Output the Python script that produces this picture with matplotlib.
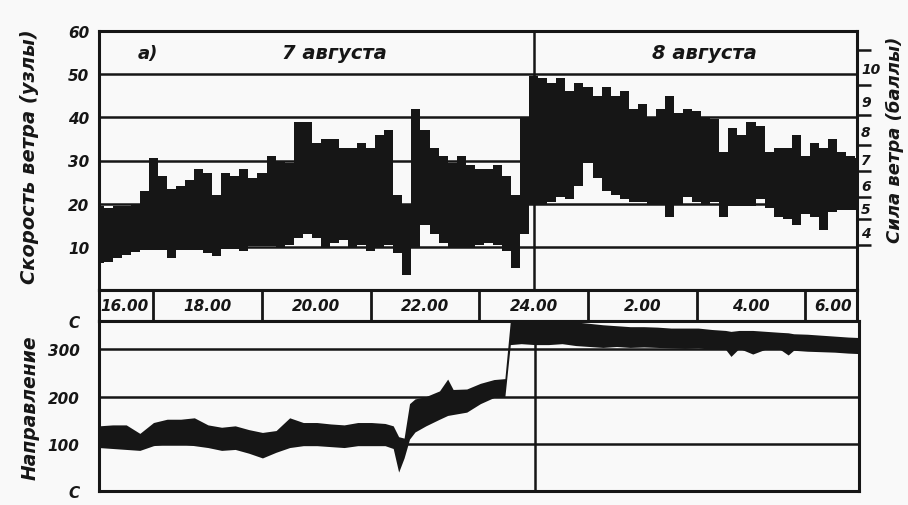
import numpy as np
import matplotlib
matplotlib.use("Agg")
import matplotlib.pyplot as plt

INK = "#161616"
PAPER = "#f9f9f9"
FONT = dict(family="DejaVu Sans", style="italic", weight="bold")

# время: часы от 16.00 (7 августа), шаг 10 мин
speed_t = [0.00, 0.17, 0.33, 0.50, 0.67, 0.83, 1.00, 1.17, 1.33, 1.50, 1.67, 1.83,
           2.00, 2.17, 2.33, 2.50, 2.67, 2.83, 3.00, 3.17, 3.33, 3.50, 3.67, 3.83,
           4.00, 4.17, 4.33, 4.50, 4.67, 4.83, 5.00, 5.17, 5.33, 5.50, 5.67, 5.83,
           6.00, 6.17, 6.33, 6.50, 6.67, 6.83, 7.00, 7.17, 7.33, 7.50, 7.67, 7.83,
           8.00, 8.17, 8.33, 8.50, 8.67, 8.83, 9.00, 9.17, 9.33, 9.50, 9.67, 9.83,
           10.00, 10.17, 10.33, 10.50, 10.67, 10.83, 11.00, 11.17, 11.33, 11.50, 11.67, 11.83,
           12.00, 12.17, 12.33, 12.50, 12.67, 12.83, 13.00, 13.17, 13.33, 13.50, 13.67, 13.83,
           14.00]
# верхняя и нижняя огибающие скорости ветра (узлы)
speed_hi = [19.5, 19, 19.5, 19.5, 20, 23, 30.5, 26.5, 23.5, 24, 25.5, 28,
            27, 22, 27, 26.5, 28, 26, 27, 31, 30, 29.5, 39, 39,
            34, 35, 35, 33, 33, 34, 33, 36, 37, 22, 20, 42,
            37, 33, 31, 29.5, 31, 29, 28, 28, 29, 26.5, 22, 40,
            49.5, 49, 48, 49, 46, 48, 47, 45, 47, 45, 46, 42,
            43, 40, 42, 45, 41, 42, 41.5, 40, 39.5, 32, 37.6, 36,
            39, 38, 32, 33, 33, 36, 31, 34, 33, 35, 32, 31,
            30.5]
speed_lo = [6.2, 6.5, 7.5, 8, 8.8, 9.3, 9.3, 9.3, 7.5, 9.3, 9.3, 9.3,
            8.5, 7.8, 9.5, 9.5, 9, 10.2, 10.3, 10.2, 10, 10.5, 12, 13,
            12, 10, 11, 11.5, 10, 10.5, 9, 10, 10.5, 8.5, 3.5, 10,
            15, 13, 11, 10, 10, 10, 10.5, 11, 10.5, 9, 5, 13,
            20, 20, 20.5, 21.5, 21, 24, 29.5, 26, 23, 22, 21, 20.5,
            20.5, 20, 20, 17, 20, 21.5, 20.5, 20, 20.5, 17, 19.5, 19.5,
            19.5, 21, 19, 17, 16.5, 15, 17.5, 17, 14, 18, 18.5, 18.5,
            18.5]

# направление ветра (градусы)
dir_t = [0, 0.25, 0.5, 0.75, 1.0, 1.25, 1.5, 1.75, 2.0, 2.25, 2.5, 2.75, 3.0,
         3.25, 3.5, 3.75, 4.0, 4.25, 4.5, 4.75, 5.0, 5.25, 5.4, 5.5, 5.6, 5.7,
         5.8, 6.0, 6.25, 6.4, 6.5, 6.75, 7.0, 7.25, 7.45, 7.55, 7.75, 8.0, 8.25,
         8.5, 8.75, 9.0, 9.25, 9.5, 9.75, 10.0, 10.25, 10.5, 10.75, 11.0, 11.25,
         11.5, 11.6, 11.75, 12.0, 12.25, 12.5, 12.65, 12.75, 13.0, 13.25, 13.5,
         13.75, 13.95]
dir_hi = [138, 140, 140, 122, 145, 152, 152, 155, 140, 135, 138, 130, 124,
          128, 155, 145, 145, 142, 140, 145, 145, 143, 138, 115, 112, 185,
          195, 200, 212, 237, 215, 216, 228, 236, 238, 360, 360, 360, 360,
          360, 358, 355, 352, 350, 348, 348, 347, 345, 345, 345, 342,
          340, 338, 340, 340, 338, 336, 335, 333, 332, 330, 328,
          326, 325]
dir_lo = [92, 90, 88, 86, 96, 100, 100, 96, 92, 86, 88, 80, 70,
          82, 92, 96, 96, 94, 92, 96, 96, 96, 90, 40, 70, 110,
          125, 138, 152, 160, 162, 167, 185, 198, 200, 310, 312, 310, 310,
          312, 308, 306, 304, 306, 304, 305, 304, 303, 302, 303, 300,
          300, 285, 302, 290, 301, 300, 288, 298, 296, 295, 294,
          292, 291]

hour_pos = [0.47, 2, 4, 6, 8, 10, 12, 13.5]
hour_labels = ["16.00", "18.00", "20.00", "22.00", "24.00", "2.00", "4.00", "6.00"]
box_edges = [1, 3, 5, 7, 9, 11, 13]
midnight = 8

speed_ticks = [10, 20, 30, 40, 50, 60]
bft_edges = [10.5, 16.5, 21.5, 27.5, 33.5, 40.5, 47.5, 55.5]
bft_labels = ["4", "5", "6", "7", "8", "9", "10"]
dir_ticks = [0, 100, 200, 300, 360]
dir_labels = ["С", "100", "200", "300", "С"]

T_END = 13.95
W, H = 908, 506

fig = plt.figure(figsize=(W / 100, H / 100), dpi=100, facecolor=PAPER)

def fx(px): return px / W
def fy(py): return 1 - py / H

ax = fig.add_axes([fx(99), fy(291), fx(857) - fx(99), fy(32) - fy(291)])
strip = fig.add_axes([fx(99), fy(322), fx(857) - fx(99), fy(291) - fy(322)])
axd = fig.add_axes([fx(99), fy(492), fx(859) - fx(99), fy(322) - fy(492)])

for a in (ax, strip, axd):
    a.set_facecolor(PAPER)
    a.set_xlim(0, T_END)
    a.set_xticks([])
    for s in a.spines.values():
        s.set_linewidth(2.2)
        s.set_color(INK)

# --- скорость ветра
ax.set_ylim(0, 60)
for v in speed_ticks[:-1]:
    ax.axhline(v, color=INK, lw=1.8, zorder=1)
ax.axvline(midnight, color=INK, lw=1.8, zorder=1)
ax.fill_between(speed_t, speed_lo, speed_hi, step="mid", color=INK, lw=0, zorder=2)
ax.set_yticks(speed_ticks)
ax.set_yticklabels([str(v) for v in speed_ticks], **FONT, fontsize=11)
ax.tick_params(axis="y", length=0, pad=7, colors=INK)

ax.text(0.9, 55, "а)", **FONT, fontsize=13, ha="center", va="center", color=INK)
ax.text(4.33, 55, "7 августа", **FONT, fontsize=14, ha="center", va="center", color=INK)
ax.text(11.15, 55, "8 августа", **FONT, fontsize=14, ha="center", va="center", color=INK)

# шкала Бофорта справа
ax2 = ax.twinx()
ax2.set_ylim(0, 60)
for s in ax2.spines.values():
    s.set_visible(False)
ax2.set_yticks(bft_edges)
ax2.set_yticklabels([])
ax2.set_yticks([(a + b) / 2 for a, b in zip(bft_edges[:-1], bft_edges[1:])], minor=True)
ax2.set_yticklabels(bft_labels, minor=True, **FONT, fontsize=10)
ax2.tick_params(axis="y", which="major", length=10, width=1.8, color=INK)
ax2.tick_params(axis="y", which="minor", length=0, pad=3, colors=INK)

# --- полоса времени
strip.set_ylim(0, 1)
strip.set_yticks([])
for e in box_edges:
    strip.axvline(e, color=INK, lw=2)
for p, lab in zip(hour_pos, hour_labels):
    strip.text(p, 0.5, lab, **FONT, fontsize=11, ha="center", va="center", color=INK)

# --- направление
axd.set_ylim(0, 360)
for v in dir_ticks[1:-1]:
    axd.axhline(v, color=INK, lw=1.8, zorder=1)
axd.axvline(midnight, color=INK, lw=1.8, zorder=1)
axd.fill_between(dir_t, dir_lo, dir_hi, color=INK, lw=0, zorder=2)
axd.set_yticks(dir_ticks)
axd.set_yticklabels(dir_labels, **FONT, fontsize=11)
axd.tick_params(axis="y", length=0, pad=14, colors=INK)

fig.text(fx(30), fy(157), "Скорость ветра (узлы)", **FONT, fontsize=14,
         rotation=90, ha="center", va="center", color=INK)
fig.text(fx(895), fy(140), "Сила ветра (баллы)", **FONT, fontsize=13,
         rotation=90, ha="center", va="center", color=INK)
fig.text(fx(30), fy(408), "Направление", **FONT, fontsize=13.5,
         rotation=90, ha="center", va="center", color=INK)

fig.savefig("out.png", dpi=100, facecolor=PAPER)
